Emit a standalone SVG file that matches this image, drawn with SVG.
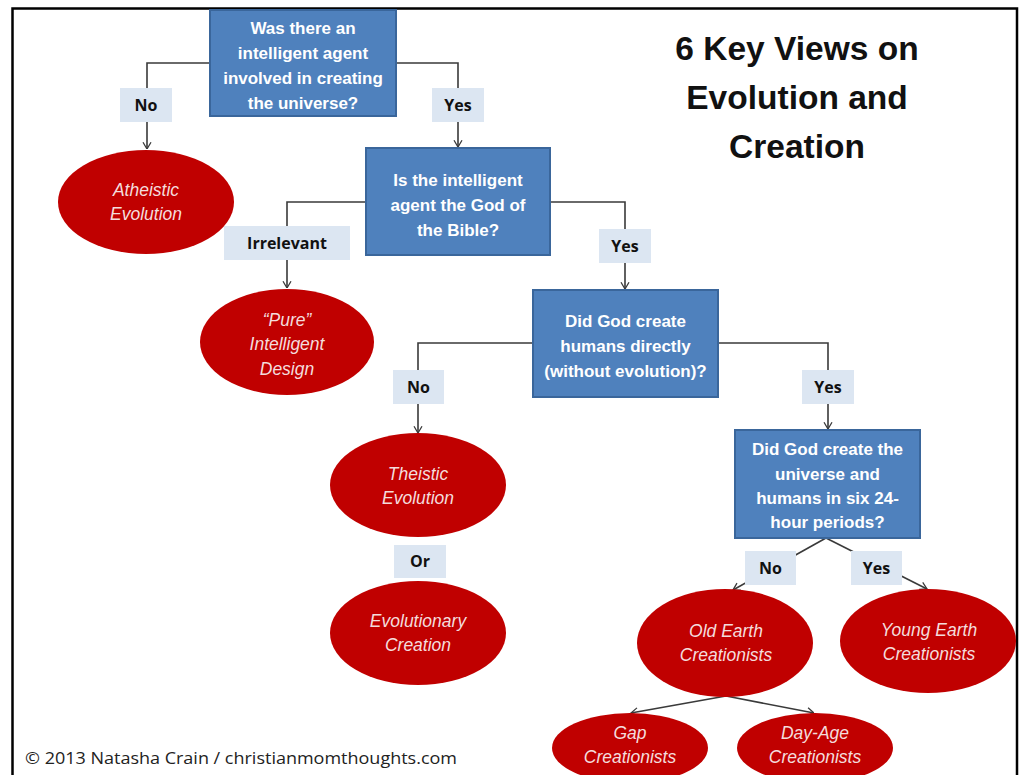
<svg xmlns="http://www.w3.org/2000/svg" width="1023" height="775" viewBox="0 0 1023 775">
<style>
.q{fill:#4f81bd;stroke:#3a669b;stroke-width:2}
.qt{font-family:"Liberation Sans",Arial,sans-serif;font-weight:bold;font-size:17px;fill:#fff;text-anchor:middle}
.e{fill:#c00000}
.et{font-family:"Liberation Sans",Arial,sans-serif;font-style:italic;font-size:17.5px;fill:#f4dcdc;text-anchor:middle}
.l{fill:#dce6f2}
.lt{font-family:"Open Sans","Liberation Sans",sans-serif;font-weight:bold;font-size:16px;fill:#111;text-anchor:middle}
.c{fill:none;stroke:#3a3a3a;stroke-width:1.6}
.title{font-family:"Liberation Sans",Arial,sans-serif;font-weight:bold;font-size:33.5px;fill:#111;text-anchor:middle}
</style>
<defs>
<marker id="arr" viewBox="0 0 10 12" refX="9.5" refY="6" markerWidth="8" markerHeight="10" markerUnits="userSpaceOnUse" orient="auto">
<path d="M1,1 L9.5,6 L1,11" fill="none" stroke="#3a3a3a" stroke-width="1.6"/>
</marker>
</defs>
<rect x="0" y="0" width="1023" height="775" fill="#fff"/>
<rect x="12.5" y="8.5" width="1004.5" height="790" fill="#fff" stroke="#000" stroke-width="2.5"/>

<g id="connectors">
<path class="c" d="M210,63 H147 V149" marker-end="url(#arr)"/>
<path class="c" d="M396,63 H458 V147" marker-end="url(#arr)"/>
<path class="c" d="M366,202 H287 V288" marker-end="url(#arr)"/>
<path class="c" d="M550,202 H625 V289" marker-end="url(#arr)"/>
<path class="c" d="M533,343 H418 V433" marker-end="url(#arr)"/>
<path class="c" d="M718,343 H828 V429" marker-end="url(#arr)"/>
<path class="c" d="M826,538 L733,590" marker-end="url(#arr)"/>
<path class="c" d="M826,538 L927,589" marker-end="url(#arr)"/>
<path class="c" d="M726,696 L631,713" marker-end="url(#arr)"/>
<path class="c" d="M726,696 L814,713" marker-end="url(#arr)"/>
</g>

<g id="q1"><rect class="q" x="210" y="10" width="186" height="106"/>
<text class="qt" x="303" y="34">Was there an</text><text class="qt" x="303" y="59">intelligent agent</text><text class="qt" x="303" y="84">involved in creating</text><text class="qt" x="303" y="109">the universe?</text></g>

<g id="q2"><rect class="q" x="366" y="148" width="184" height="107"/>
<text class="qt" x="458" y="186">Is the intelligent</text><text class="qt" x="458" y="211">agent the God of</text><text class="qt" x="458" y="236">the Bible?</text></g>

<g id="q3"><rect class="q" x="533" y="290" width="185" height="107"/>
<text class="qt" x="625.5" y="327">Did God create</text><text class="qt" x="625.5" y="352">humans directly</text><text class="qt" x="625.5" y="377">(without evolution)?</text></g>

<g id="q4"><rect class="q" x="735" y="430" width="185" height="108"/>
<text class="qt" x="827.5" y="455">Did God create the</text><text class="qt" x="827.5" y="480">universe and</text><text class="qt" x="827.5" y="504">humans in six 24-</text><text class="qt" x="827.5" y="528">hour periods?</text></g>

<g id="l1"><rect class="l" x="120" y="88" width="52" height="34"/><text class="lt" x="146" y="111">No</text></g>
<g id="l2"><rect class="l" x="432" y="88" width="52" height="34"/><text class="lt" x="458" y="111">Yes</text></g>
<g id="l3"><rect class="l" x="224" y="226" width="126" height="34"/><text class="lt" x="287" y="249">Irrelevant</text></g>
<g id="l4"><rect class="l" x="599" y="229" width="52" height="34"/><text class="lt" x="625" y="252">Yes</text></g>
<g id="l5"><rect class="l" x="393" y="370" width="51" height="34"/><text class="lt" x="418.5" y="393">No</text></g>
<g id="l6"><rect class="l" x="802" y="370" width="52" height="34"/><text class="lt" x="828" y="393">Yes</text></g>
<g id="l7"><rect class="l" x="394" y="545" width="52" height="33"/><text class="lt" x="420" y="567">Or</text></g>
<g id="l8"><rect class="l" x="745" y="551" width="51" height="34"/><text class="lt" x="770.5" y="574">No</text></g>
<g id="l9"><rect class="l" x="851" y="551" width="51" height="34"/><text class="lt" x="876.5" y="574">Yes</text></g>

<g id="atheistic"><ellipse class="e" cx="146" cy="202" rx="88" ry="52"/>
<text class="et" x="146" y="196">Atheistic</text><text class="et" x="146" y="220">Evolution</text></g>
<g id="pureid"><ellipse class="e" cx="287" cy="342" rx="87" ry="53"/>
<text class="et" x="287" y="326">“Pure”</text><text class="et" x="287" y="350">Intelligent</text><text class="et" x="287" y="375">Design</text></g>
<g id="theistic"><ellipse class="e" cx="418" cy="485" rx="88" ry="52"/>
<text class="et" x="418" y="480">Theistic</text><text class="et" x="418" y="504">Evolution</text></g>
<g id="evocreation"><ellipse class="e" cx="418" cy="633" rx="88" ry="52"/>
<text class="et" x="418" y="627">Evolutionary</text><text class="et" x="418" y="651">Creation</text></g>
<g id="oldearth"><ellipse class="e" cx="725" cy="643" rx="88" ry="54"/>
<text class="et" x="726" y="637">Old Earth</text><text class="et" x="726" y="661">Creationists</text></g>
<g id="youngearth"><ellipse class="e" cx="928" cy="641" rx="88" ry="52"/>
<text class="et" x="929" y="636">Young Earth</text><text class="et" x="929" y="660">Creationists</text></g>
<g id="gap"><ellipse class="e" cx="630" cy="748" rx="78" ry="35"/>
<text class="et" x="630" y="739">Gap</text><text class="et" x="630" y="763">Creationists</text></g>
<g id="dayage"><ellipse class="e" cx="815" cy="748" rx="78" ry="35"/>
<text class="et" x="815" y="739">Day-Age</text><text class="et" x="815" y="763">Creationists</text></g>

<g id="title">
<text class="title" x="797" y="60">6 Key Views on</text>
<text class="title" x="797" y="109">Evolution and</text>
<text class="title" x="797" y="158">Creation</text>
</g>
<text x="25" y="764" font-family="Open Sans,Liberation Sans,sans-serif" font-size="16" fill="#222" textLength="432" lengthAdjust="spacingAndGlyphs">© 2013 Natasha Crain /  christianmomthoughts.com</text>
</svg>
